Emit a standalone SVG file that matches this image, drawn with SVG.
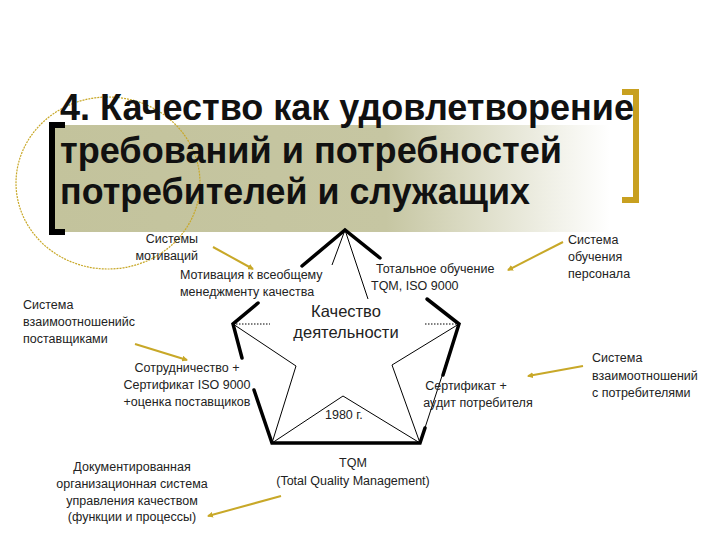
<svg xmlns="http://www.w3.org/2000/svg" width="720" height="540" viewBox="0 0 720 540">
<defs>
<linearGradient id="band" x1="0" x2="1" y1="0" y2="0">
<stop offset="0" stop-color="#c3c39c"/><stop offset="0.6" stop-color="#c6c6a2"/><stop offset="1" stop-color="#ffffff"/>
</linearGradient>
<marker id="ah" markerWidth="6" markerHeight="6" refX="5" refY="3" orient="auto" markerUnits="userSpaceOnUse"><path d="M0,0 L6,3 L0,6 z" fill="#c8a828"/></marker>
<style>
.t{font-family:"Liberation Sans",Arial,sans-serif;font-size:12.5px;fill:#222}
.title{font-family:"Liberation Sans",Arial,sans-serif;font-size:36px;font-weight:bold;fill:#111}
.thick{stroke:#000;stroke-width:3.5;fill:none;stroke-linecap:round}
.thin{stroke:#000;stroke-width:1;fill:none}
.dot{stroke:#000;stroke-width:1;stroke-dasharray:1.5 1.5;fill:none}
.gold{stroke:#c8a828;stroke-width:2;fill:none;marker-end:url(#ah)}
</style>
</defs>
<rect width="720" height="540" fill="#fff"/>
<g id="header">
<rect x="50" y="125" width="560" height="107" fill="url(#band)"/>
<ellipse cx="108" cy="183" rx="92" ry="86" fill="none" stroke="#c8a828" stroke-width="1.2" stroke-dasharray="2 1"/>
<path d="M65,125 H52 V232 H65" fill="none" stroke="#000" stroke-width="6"/>
<path d="M622,92 H636 V200 H622" fill="none" stroke="#c8a020" stroke-width="6"/>
<text class="title" x="60" y="120" textLength="574" lengthAdjust="spacingAndGlyphs">4. Качество как удовлетворение</text>
<text class="title" x="60" y="163" textLength="502" lengthAdjust="spacingAndGlyphs">требований и потребностей</text>
<text class="title" x="60" y="204" textLength="470" lengthAdjust="spacingAndGlyphs">потребителей и служащих</text>
</g>
<g id="star">
<path class="thick" d="M302,266 L345,230 L380,258"/>
<path class="thick" d="M258,303 L233,324 L242,358"/>
<path class="thick" d="M254,390 L272,443 L420,443 L425,428"/>
<path class="thick" d="M427,299 L459,324 L443,375"/>
<path class="thin" d="M332,265 L345,230 L368,299"/>
<path class="thin" d="M233,324 L296,366 L272,443 L343,396 L420,443 L392,365 L459,324 L420,443"/>
<path class="dot" d="M233,324 H270 M425,324 H459"/>
</g>
<g id="connectors">
<line class="gold" x1="213" y1="247" x2="253" y2="269"/>
<line class="gold" x1="135" y1="344" x2="187" y2="360"/>
<line class="gold" x1="281" y1="496" x2="208" y2="516"/>
<line class="gold" x1="563" y1="242" x2="508" y2="270"/>
<line class="gold" x1="583" y1="366" x2="528" y2="376"/>
</g>
<g id="labels">
<text class="t" text-anchor="end" x="198" y="243">Системы</text>
<text class="t" text-anchor="end" x="198" y="260">мотиваций</text>
<text class="t" x="180" y="279">Мотивация к всеобщему</text>
<text class="t" x="180" y="296">менеджменту качества</text>
<text class="t" x="23" y="309">Система</text>
<text class="t" x="23" y="326">взаимоотношенийс</text>
<text class="t" x="23" y="343">поставщиками</text>
<text class="t" text-anchor="middle" x="187" y="372">Сотрудничество +</text>
<text class="t" text-anchor="middle" x="187" y="389">Сертификат ISO 9000</text>
<text class="t" text-anchor="middle" x="187" y="406">+оценка поставщиков</text>
<text class="t" text-anchor="middle" x="132" y="471">Документированная</text>
<text class="t" text-anchor="middle" x="132" y="488">организационная система</text>
<text class="t" text-anchor="middle" x="132" y="505">управления качеством</text>
<text class="t" text-anchor="middle" x="132" y="521">(функции и процессы)</text>
<text class="t" x="376" y="273">Тотальное обучение</text>
<text class="t" x="371" y="290">TQM, ISO 9000</text>
<text class="t" text-anchor="middle" x="346" y="317" style="font-size:16.5px">Качество</text>
<text class="t" text-anchor="middle" x="346" y="338" style="font-size:16.5px">деятельности</text>
<text class="t" x="325" y="419">1980 г.</text>
<text class="t" text-anchor="middle" x="466" y="390">Сертификат +</text>
<text class="t" text-anchor="middle" x="478" y="407">аудит потребителя</text>
<text class="t" text-anchor="middle" x="353" y="467">TQM</text>
<text class="t" text-anchor="middle" x="353" y="485">(Total Quality Management)</text>
<text class="t" x="568" y="244">Система</text>
<text class="t" x="568" y="261">обучения</text>
<text class="t" x="568" y="278">персонала</text>
<text class="t" x="592" y="362">Система</text>
<text class="t" x="592" y="380">взаимоотношений</text>
<text class="t" x="592" y="397">с потребителями</text>
</g>
</svg>
